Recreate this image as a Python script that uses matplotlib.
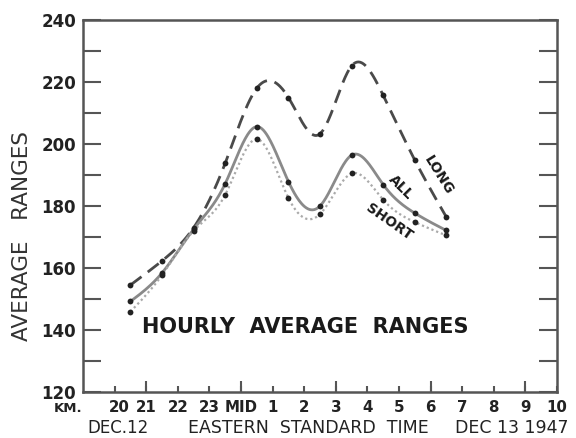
import numpy as np
import matplotlib
matplotlib.use("Agg")
import matplotlib.pyplot as plt
import matplotlib.transforms as mtransforms

# ---- data (hours: 24 = midnight Dec 12/13) ----
hours = [20.5, 21.5, 22.5, 23.5, 24.5, 25.5, 26.5, 27.5, 28.5, 29.5, 30.5]
long_vals = [154.5, 162.3, 173.0, 193.8, 218.0, 215.0, 203.3, 225.2, 215.7, 194.8, 176.4]
all_vals = [149.2, 158.4, 172.5, 187.2, 205.6, 187.9, 180.0, 196.4, 186.9, 177.7, 172.1]
short_vals = [145.9, 157.7, 172.0, 183.6, 201.6, 182.6, 177.4, 190.5, 182.0, 174.8, 170.5]

xtick_pos = list(range(20, 35))
xtick_labels = ['20', '21', '22', '23', 'MID', '1', '2', '3', '4', '5', '6', '7', '8', '9', '10']
ytick_pos = [120, 140, 160, 180, 200, 220, 240]


def natural_spline(x, y, n=400):
    x = np.asarray(x, float)
    y = np.asarray(y, float)
    m = len(x)
    h = np.diff(x)
    A = np.zeros((m, m))
    b = np.zeros(m)
    A[0, 0] = A[-1, -1] = 1
    for i in range(1, m - 1):
        A[i, i - 1] = h[i - 1]
        A[i, i] = 2 * (h[i - 1] + h[i])
        A[i, i + 1] = h[i]
        b[i] = 3 * ((y[i + 1] - y[i]) / h[i] - (y[i] - y[i - 1]) / h[i - 1])
    c = np.linalg.solve(A, b)
    xs = np.linspace(x[0], x[-1], n)
    idx = np.clip(np.searchsorted(x, xs) - 1, 0, m - 2)
    dx = xs - x[idx]
    hi = h[idx]
    bi = (y[idx + 1] - y[idx]) / hi - hi * (2 * c[idx] + c[idx + 1]) / 3
    di = (c[idx + 1] - c[idx]) / (3 * hi)
    ys = y[idx] + bi * dx + c[idx] * dx ** 2 + di * dx ** 3
    return xs, ys


fig = plt.figure(figsize=(5.76, 4.38), dpi=100)
ax = fig.add_axes([83 / 576, 1 - 392 / 438, (557 - 83) / 576, (392 - 20) / 438])

spine_col = '#555555'
for s in ax.spines.values():
    s.set_color(spine_col)
    s.set_linewidth(1.8)

# curves
xs, ys = natural_spline(hours, long_vals)
ax.plot(xs, ys, color='#4a4a4a', lw=2.0, dashes=(5, 2.8), zorder=3)
xs, ys = natural_spline(hours, all_vals)
ax.plot(xs, ys, color='#8a8a8a', lw=2.0, zorder=3)
xs, ys = natural_spline(hours, short_vals)
ax.plot(xs, ys, color='#aaaaaa', lw=1.6, linestyle=(0, (1, 1.3)), zorder=3)

for vals in (long_vals, all_vals, short_vals):
    ax.plot(hours, vals, 'o', color='#222222', ms=4.2, zorder=4, mec='none')

ax.set_xlim(19, 34)
ax.set_ylim(120, 240)

ax.set_xticks(xtick_pos)
ax.set_xticklabels(xtick_labels)
ax.set_xticks([21, 24, 27, 30, 33], minor=True)
ax.xaxis.remove_overlapping_locs = False
ax.tick_params(axis='x', which='major', direction='in', length=4, width=1.5,
               color=spine_col, pad=6, labelsize=10.8, top=False)
ax.tick_params(axis='x', which='minor', direction='in', length=8, width=1.5,
               color=spine_col, top=False)

ax.set_yticks(ytick_pos)
ax.set_yticks(np.arange(130, 240, 20), minor=True)
ax.tick_params(axis='y', which='both', direction='in', length=13, width=1.5,
               color=spine_col, pad=5, labelsize=12, left=True, right=True)

for lab in ax.get_xticklabels() + ax.get_yticklabels():
    lab.set_fontweight('bold')
    lab.set_color('#222222')

# first hour label sits a little right of its tick in the original
first = ax.xaxis.get_major_ticks()[0].label1
first.set_transform(first.get_transform() +
                    mtransforms.ScaledTranslation(5 / 100, 0, fig.dpi_scale_trans))

ax.set_ylabel('AVERAGE   RANGES', fontsize=15.5, color='#333333')
ax.yaxis.set_label_coords(-0.108, 0.42)

# in-plot texts
ax.text(0.468, 0.175, 'HOURLY  AVERAGE  RANGES', transform=ax.transAxes,
        ha='center', va='center', fontsize=15, fontweight='bold', color='#1a1a1a')
ax.text(30.25, 190.0, 'LONG', rotation=-58, ha='center', va='center',
        fontsize=10, fontweight='bold', color='#1a1a1a')
ax.text(29.05, 186.0, 'ALL', rotation=-45, ha='center', va='center',
        fontsize=10, fontweight='bold', color='#1a1a1a')
ax.text(28.7, 175.0, 'SHORT', rotation=-35, ha='center', va='center',
        fontsize=10, fontweight='bold', color='#1a1a1a')

# axis footer texts
fig.text(68 / 576, 1 - 409 / 438, 'KM.', ha='center', va='center',
         fontsize=9.5, fontweight='bold', color='#222222')
fig.text(118 / 576, 1 - 428 / 438, 'DEC.12', ha='center', va='center',
         fontsize=12, color='#222222')
fig.text(308 / 576, 1 - 428 / 438, 'EASTERN  STANDARD  TIME', ha='center', va='center',
         fontsize=12.5, color='#222222')
fig.text(512 / 576, 1 - 428 / 438, 'DEC 13 1947', ha='center', va='center',
         fontsize=12.5, color='#222222')

fig.savefig('out.png', dpi=100)
